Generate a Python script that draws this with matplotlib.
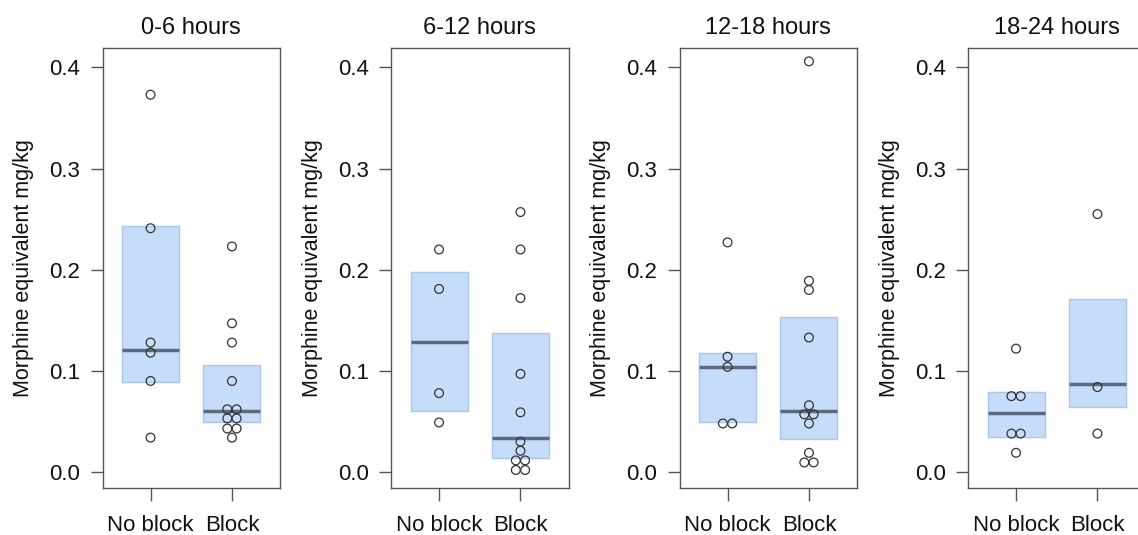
import matplotlib
matplotlib.use("Agg")
import matplotlib.pyplot as plt
import numpy as np

plt.rcParams['font.family'] = ['Liberation Sans', 'DejaVu Sans']

# ---------------- data ----------------
periods = ["0-6 hours", "6-12 hours", "12-18 hours", "18-24 hours"]
groups = ["No block", "Block"]
y_label = "Morphine equivalent mg/kg"
y_ticks = [0.0, 0.1, 0.2, 0.3, 0.4]

# individual observations (mg/kg)
no_block_0_6 = [0.373, 0.241, 0.128, 0.118, 0.090, 0.034]
block_0_6 = [0.223, 0.147, 0.128, 0.090, 0.062, 0.062, 0.053, 0.053,
             0.043, 0.043, 0.034]
no_block_6_12 = [0.220, 0.181, 0.078, 0.049]
block_6_12 = [0.257, 0.220, 0.172, 0.097, 0.059, 0.030, 0.021,
              0.0115, 0.0115, 0.002, 0.002]
no_block_12_18 = [0.227, 0.114, 0.104, 0.048, 0.048]
block_12_18 = [0.406, 0.189, 0.180, 0.133, 0.066, 0.057, 0.057, 0.048,
               0.019, 0.0095, 0.0095]
no_block_18_24 = [0.122, 0.075, 0.075, 0.038, 0.038, 0.019]
block_18_24 = [0.255, 0.084, 0.038]

# interval band (low, high) and central line, per period: [No block, Block]
band_low = [[0.089, 0.049], [0.0605, 0.014], [0.049, 0.033], [0.0345, 0.064]]
band_high = [[0.243, 0.106], [0.198, 0.137], [0.118, 0.153], [0.079, 0.171]]
band_mid = [[0.121, 0.0605], [0.129, 0.034], [0.104, 0.0605], [0.0588, 0.087]]

observations = [
    [no_block_0_6, block_0_6],
    [no_block_6_12, block_6_12],
    [no_block_12_18, block_12_18],
    [no_block_18_24, block_18_24],
]

# ---------------- layout / style ----------------
W, H = 1138, 535
fig = plt.figure(figsize=(W / 100, H / 100), dpi=100)

ax_left0 = 102.5
ax_step = 288.5
ax_w = 177.5
ax_bottom = 535 - 487.7
ax_h = 440.0

band_fill = "#c6ddfa"
band_edge = "#a9c6ec"
mid_color = "#5b6a7c"
spine_color = "#555555"
half_w = 0.35
dot_step = 0.114


def swarm_offsets(vals, step):
    vals = np.asarray(vals, dtype=float)
    offs = np.zeros(len(vals))
    uniq = {}
    for i, v in enumerate(vals):
        uniq.setdefault(round(v, 6), []).append(i)
    for idx in uniq.values():
        k = len(idx)
        for j, i in enumerate(idx):
            offs[i] = (j - (k - 1) / 2) * step
    return offs


for p, period in enumerate(periods):
    left = ax_left0 + p * ax_step
    ax = fig.add_axes([left / W, ax_bottom / H, ax_w / W, ax_h / H])
    for g in range(len(groups)):
        xc = g + 1
        lo, hi, md = band_low[p][g], band_high[p][g], band_mid[p][g]
        ax.fill_between([xc - half_w, xc + half_w], [lo, lo], [hi, hi],
                        facecolor=band_fill, edgecolor=band_edge,
                        linewidth=1.0, zorder=1)
        ax.plot([xc - half_w, xc + half_w], [md, md], color=mid_color,
                linewidth=2.5, solid_capstyle='butt', zorder=2)
        vals = observations[p][g]
        xs = xc + swarm_offsets(vals, dot_step)
        ax.scatter(xs, vals, s=40, facecolors='none', edgecolors='#333333',
                   linewidths=0.9, zorder=3)

    ax.set_xlim(0.41, 2.59)
    ax.set_ylim(-0.0155, 0.4195)
    ax.set_xticks([1, 2])
    ax.set_xticklabels(groups)
    ax.set_yticks(y_ticks)
    ax.set_yticklabels([f"{t:.1f}" for t in y_ticks])
    ax.tick_params(axis='both', direction='out', length=9, width=1.0,
                   color=spine_color, labelsize=16, labelcolor='#111111')
    ax.tick_params(axis='y', pad=7)
    ax.tick_params(axis='x', pad=11)
    for sp in ax.spines.values():
        sp.set_color(spine_color)
        sp.set_linewidth(1.0)
    ax.set_title(period, fontsize=17, pad=10, color='#111111')
    ax.set_ylabel(y_label, fontsize=15.5, color='#111111')
    ax.yaxis.set_label_coords((34 - 102.3) / ax_w, 0.5)

fig.savefig("out.png", dpi=100)
